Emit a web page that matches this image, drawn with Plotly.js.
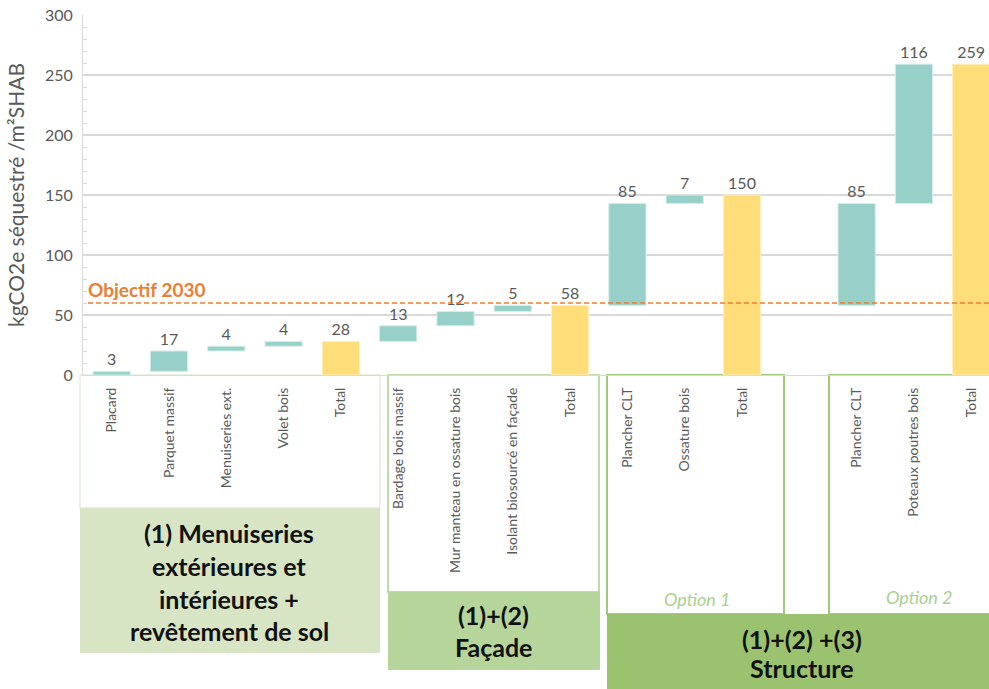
<!DOCTYPE html>
<html><head><meta charset="utf-8">
<script src="https://cdn.plot.ly/plotly-3.0.1.min.js"></script>
<style>html,body{margin:0;padding:0;background:#fff}#chart{width:989px;height:689px}</style>
</head><body><div id="chart"></div>
<script>
// ---- data ----
const labels = ["Placard","Parquet massif","Menuiseries ext.","Volet bois","Total",
  "Bardage bois massif","Mur manteau en ossature bois","Isolant biosourcé en façade","Total",
  "Plancher CLT","Ossature bois","Total","",
  "Plancher CLT","Poteaux poutres bois","Total"];
const values = [3,17,4,4,28, 13,12,5,58, 85,7,150, null, 85,116,259];
const kinds  = ["step","step","step","step","total", "step","step","step","total",
  "step","step","total","gap", "step","step","total"];
// Option 2 restarts from the façade total (category index 8)
const restartFrom = {13: 8};
const objective = 60;
const objectiveLabel = "Objectif 2030";
const yTitle = "kgCO2e séquestré /m²SHAB";

// ---- derived bars ----
const stepX=[], stepY=[], stepBase=[], stepText=[];
const totX=[], totY=[], totText=[];
let running = 0;
for (let i=0;i<values.length;i++){
  if (restartFrom[i]!==undefined) running = values[restartFrom[i]];
  if (kinds[i]==="step"){ stepX.push(i); stepY.push(values[i]); stepBase.push(running); stepText.push(String(values[i])); running += values[i]; }
  else if (kinds[i]==="total"){ totX.push(i); totY.push(values[i]); totText.push(String(values[i])); running = values[i]; }
}

// pixel helpers for decorations below the plot area
const L=83, R=989, T=15, B=375;
const PX = p => (p-L)/(R-L);
const PY = p => (B-p)/(B-T);

const font = "Lato, 'Open Sans', sans-serif";
const grey = "#595959";
const textFont = {family:font, size:16, color:grey};

const traces = [
  {type:"bar", x:stepX, y:stepY, base:stepBase, width:0.65, text:stepText, textposition:"outside",
   textfont:textFont, cliponaxis:false, constraintext:"none",
   marker:{color:"#96D0C8", line:{color:"#D5EEEA", width:1}}, hoverinfo:"skip", showlegend:false},
  {type:"bar", x:totX, y:totY, width:0.65, text:totText, textposition:"outside",
   textfont:textFont, cliponaxis:false, constraintext:"none",
   marker:{color:"#FFDD78", line:{color:"#FFF0C0", width:1}}, hoverinfo:"skip", showlegend:false}
];

function rect(x0,y0,x1,y1,opt){
  return Object.assign({type:"rect", xref:"paper", yref:"paper", x0:PX(x0), x1:PX(x1), y0:PY(y0), y1:PY(y1), layer:"below"}, opt);
}
const shapes = [
  {type:"line", xref:"paper", yref:"y", x0:PX(88), x1:1, y0:objective, y1:objective,
   line:{color:"#ED7D31", width:1.5, dash:"5px,3px"}, layer:"above"},
  rect(80,375,380,508,{line:{color:"#D6E5C8", width:1}, fillcolor:"rgba(0,0,0,0)"}),
  rect(80,508,380,653,{line:{width:0}, fillcolor:"#D8E5C4"}),
  rect(388,375,599,592,{line:{color:"#A9D18E", width:1.5}, fillcolor:"rgba(0,0,0,0)"}),
  rect(388,592,600,670,{line:{width:0}, fillcolor:"#B6D59B"}),
  rect(607,375,784,614,{line:{color:"#9DCB7A", width:2}, fillcolor:"rgba(0,0,0,0)"}),
  rect(829,375,995,614,{line:{color:"#9DCB7A", width:2}, fillcolor:"rgba(0,0,0,0)"}),
  rect(607,614,995,695,{line:{width:0}, fillcolor:"#9BC26F"})
];

function line(txt,cx,cy,opts){
  return Object.assign({text:txt, xref:"paper", yref:"paper", x:PX(cx), y:PY(cy), xanchor:"center", yanchor:"middle",
    showarrow:false, font:{family:font, size:25, color:"#111", weight:"bold"}}, opts||{});
}
const annotations = [
  {text:objectiveLabel, xref:"paper", yref:"y", x:PX(86), y:objective, xanchor:"left", yanchor:"bottom", yshift:0,
   showarrow:false, font:{family:font, size:19, color:"#ED7D31", weight:"bold"}},
  line("(1) Menuiseries",229,533), line("extérieures et",229,566), line("intérieures +",229,599), line("revêtement de sol",229,631),
  line("(1)+(2)",493,615), line("Façade",493,647),
  line("(1)+(2) +(3)",802,639), line("Structure",802,668),
  {text:"Option 1", xref:"paper", yref:"paper", x:PX(697), y:PY(599), xanchor:"center", yanchor:"middle", showarrow:false,
   font:{family:font, size:18, color:"#A9D18E", style:"italic"}},
  {text:"Option 2", xref:"paper", yref:"paper", x:PX(919), y:PY(597), xanchor:"center", yanchor:"middle", showarrow:false,
   font:{family:font, size:18, color:"#A9D18E", style:"italic"}}
];

const layout = {
  width:989, height:689,
  margin:{l:L, r:0, t:T, b:689-B, pad:0},
  paper_bgcolor:"#fff", plot_bgcolor:"#fff",
  barmode:"overlay",
  font:{family:font, color:grey},
  xaxis:{range:[-0.5, 15.31], tickvals:labels.map((_,i)=>i), ticktext:labels, tickangle:-90,
    tickfont:{family:font, size:14, color:grey}, showgrid:false, zeroline:false,
    showline:true, linecolor:"#D9D9D9", linewidth:1, ticks:"", ticklabelstandoff:6, fixedrange:true},
  yaxis:{range:[0,300], dtick:50, tickfont:{family:font, size:16, color:grey},
    showgrid:true, gridcolor:"#D9D9D9", gridwidth:1.5, zeroline:false,
    showline:true, linecolor:"#D9D9D9", linewidth:1, ticks:"", ticklabelstandoff:6,
    minor:{dtick:10, ticks:"inside", ticklen:4, tickcolor:"#D9D9D9", showgrid:false},
    title:{text:yTitle, font:{family:font, size:21, color:grey}, standoff:14}, fixedrange:true},
  shapes:shapes, annotations:annotations
};
Plotly.newPlot("chart", traces, layout, {displayModeBar:false, staticPlot:true});
</script></body></html>
